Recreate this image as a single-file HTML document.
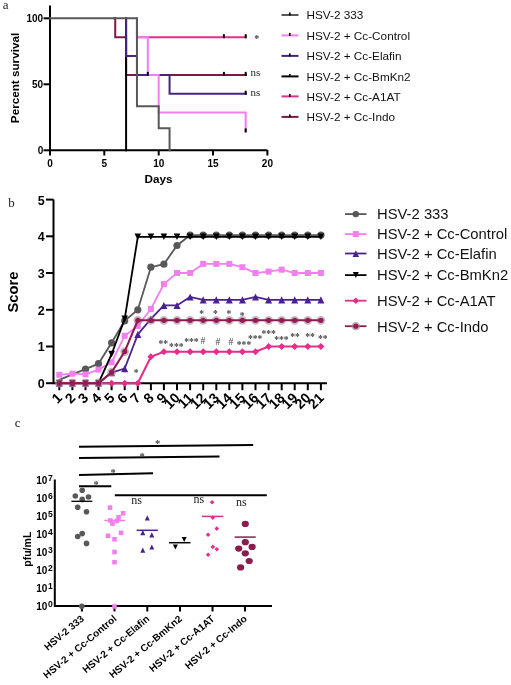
<!DOCTYPE html>
<html><head><meta charset="utf-8"><style>
html,body{margin:0;padding:0;background:#fff;width:511px;height:685px;overflow:hidden}
svg{display:block;filter:blur(0.3px)}
</style></head><body>
<svg width="511" height="685" viewBox="0 0 511 685">
<rect width="511" height="685" fill="#fff"/>
<text x="2.8" y="8.9" style="font-family:'Liberation Serif', serif;font-size:13px" fill="#222">a</text>
<path d="M50,5.5 V150.3 H267.4" fill="none" stroke="#000" stroke-width="2"/>
<line x1="43.5" y1="18.3" x2="50" y2="18.3" stroke="#000" stroke-width="2"/>
<text x="43.2" y="22.3" text-anchor="end" style="font-family:'Liberation Sans', sans-serif;font-size:10px;font-weight:bold">100</text>
<line x1="43.5" y1="84.3" x2="50" y2="84.3" stroke="#000" stroke-width="2"/>
<text x="43.2" y="88.3" text-anchor="end" style="font-family:'Liberation Sans', sans-serif;font-size:10px;font-weight:bold">50</text>
<line x1="43.5" y1="150.3" x2="50" y2="150.3" stroke="#000" stroke-width="2"/>
<text x="43.2" y="154.3" text-anchor="end" style="font-family:'Liberation Sans', sans-serif;font-size:10px;font-weight:bold">0</text>
<line x1="50.0" y1="150" x2="50.0" y2="155.5" stroke="#000" stroke-width="2"/>
<text x="50.0" y="166.5" text-anchor="middle" style="font-family:'Liberation Sans', sans-serif;font-size:10px;font-weight:bold">0</text>
<line x1="104.3" y1="150" x2="104.3" y2="155.5" stroke="#000" stroke-width="2"/>
<text x="104.3" y="166.5" text-anchor="middle" style="font-family:'Liberation Sans', sans-serif;font-size:10px;font-weight:bold">5</text>
<line x1="158.7" y1="150" x2="158.7" y2="155.5" stroke="#000" stroke-width="2"/>
<text x="158.7" y="166.5" text-anchor="middle" style="font-family:'Liberation Sans', sans-serif;font-size:10px;font-weight:bold">10</text>
<line x1="213.0" y1="150" x2="213.0" y2="155.5" stroke="#000" stroke-width="2"/>
<text x="213.0" y="166.5" text-anchor="middle" style="font-family:'Liberation Sans', sans-serif;font-size:10px;font-weight:bold">15</text>
<line x1="267.4" y1="150" x2="267.4" y2="155.5" stroke="#000" stroke-width="2"/>
<text x="267.4" y="166.5" text-anchor="middle" style="font-family:'Liberation Sans', sans-serif;font-size:10px;font-weight:bold">20</text>
<text x="158.5" y="183" text-anchor="middle" style="font-family:'Liberation Sans', sans-serif;font-size:11.7px;font-weight:bold">Days</text>
<text transform="translate(18.6,78) rotate(-90)" text-anchor="middle" style="font-family:'Liberation Sans', sans-serif;font-size:11.7px;font-weight:bold">Percent survival</text>
<path d="M114.22,18.3 H115.22 V37.176 H126.08999999999999 V74.928 H245.66" fill="none" stroke="#7c1a46" stroke-width="2.0" stroke-linejoin="miter" stroke-linecap="square"/>
<path d="M136.95999999999998,18.3 H136.95999999999998 V37.176 H245.66" fill="none" stroke="#e52d8a" stroke-width="2.0" stroke-linejoin="miter" stroke-linecap="square"/>
<path d="M126.08999999999999,18.3 H126.08999999999999 V150.3" fill="none" stroke="#000" stroke-width="2.0" stroke-linejoin="miter" stroke-linecap="square"/>
<path d="M126.08999999999999,18.3 H126.08999999999999 V56.05199999999999 H136.95999999999998 V74.928 H169.57 V93.672 H245.66" fill="none" stroke="#46257f" stroke-width="2.0" stroke-linejoin="miter" stroke-linecap="square"/>
<path d="M136.95999999999998,18.3 H136.95999999999998 V37.176 H147.82999999999998 V74.928 H158.7 V112.54800000000002 H245.66 V131.424" fill="none" stroke="#f27ff0" stroke-width="2.0" stroke-linejoin="miter" stroke-linecap="square"/>
<path d="M50,18.3 H136.95999999999998 V106.34400000000001 H158.7 V128.256 H169.57 V150.3" fill="none" stroke="#58585b" stroke-width="2.0" stroke-linejoin="miter" stroke-linecap="square"/>
<rect x="222.9" y="34.2" width="2" height="4" fill="#000"/>
<rect x="244.7" y="34.2" width="2" height="4" fill="#000"/>
<rect x="222.9" y="71.9" width="2" height="4" fill="#000"/>
<rect x="244.7" y="71.9" width="2" height="4" fill="#000"/>
<rect x="244.7" y="90.7" width="2" height="4" fill="#000"/>
<rect x="244.7" y="128.4" width="2" height="4" fill="#000"/>
<rect x="146.8" y="71.9" width="2" height="4" fill="#000"/>
<text x="250.6" y="75.7" style="font-family:'Liberation Serif', serif;font-size:11px" fill="#222">ns</text>
<text x="250.6" y="95.7" style="font-family:'Liberation Serif', serif;font-size:11px" fill="#222">ns</text>
<line x1="281.5" y1="15" x2="298.5" y2="15" stroke="#58585b" stroke-width="2"/>
<rect x="289" y="12.5" width="1.6" height="3" fill="#000"/>
<text x="306.5" y="19.1" style="font-family:'Liberation Sans', sans-serif;font-size:11.75px" fill="#111">HSV-2 333</text>
<line x1="281.5" y1="35.4" x2="298.5" y2="35.4" stroke="#f27ff0" stroke-width="2"/>
<rect x="289" y="32.9" width="1.6" height="3" fill="#000"/>
<text x="306.5" y="39.5" style="font-family:'Liberation Sans', sans-serif;font-size:11.75px" fill="#111">HSV-2 + Cc-Control</text>
<line x1="281.5" y1="55.9" x2="298.5" y2="55.9" stroke="#46257f" stroke-width="2"/>
<rect x="289" y="53.4" width="1.6" height="3" fill="#000"/>
<text x="306.5" y="60.0" style="font-family:'Liberation Sans', sans-serif;font-size:11.75px" fill="#111">HSV-2 + Cc-Elafin</text>
<line x1="281.5" y1="76.4" x2="298.5" y2="76.4" stroke="#000" stroke-width="2"/>
<rect x="289" y="73.9" width="1.6" height="3" fill="#000"/>
<text x="306.5" y="80.6" style="font-family:'Liberation Sans', sans-serif;font-size:11.75px" fill="#111">HSV-2 + Cc-BmKn2</text>
<line x1="281.5" y1="96.4" x2="298.5" y2="96.4" stroke="#e52d8a" stroke-width="2"/>
<rect x="289" y="93.9" width="1.6" height="3" fill="#000"/>
<text x="306.5" y="100.6" style="font-family:'Liberation Sans', sans-serif;font-size:11.75px" fill="#111">HSV-2 + Cc-A1AT</text>
<line x1="281.5" y1="116.9" x2="298.5" y2="116.9" stroke="#7c1a46" stroke-width="2"/>
<rect x="289" y="114.4" width="1.6" height="3" fill="#000"/>
<text x="306.5" y="121.1" style="font-family:'Liberation Sans', sans-serif;font-size:11.75px" fill="#111">HSV-2 + Cc-Indo</text>
<text x="8.3" y="206.8" style="font-family:'Liberation Serif', serif;font-size:13px" fill="#222">b</text>
<path d="M53.5,199.6 V383.2 H327" fill="none" stroke="#000" stroke-width="2"/>
<line x1="46" y1="383.2" x2="53.5" y2="383.2" stroke="#000" stroke-width="2"/>
<text x="44.8" y="388.1" text-anchor="end" style="font-family:'Liberation Sans', sans-serif;font-size:12.5px;font-weight:bold">0</text>
<line x1="46" y1="346.5" x2="53.5" y2="346.5" stroke="#000" stroke-width="2"/>
<text x="44.8" y="351.4" text-anchor="end" style="font-family:'Liberation Sans', sans-serif;font-size:12.5px;font-weight:bold">1</text>
<line x1="46" y1="309.8" x2="53.5" y2="309.8" stroke="#000" stroke-width="2"/>
<text x="44.8" y="314.7" text-anchor="end" style="font-family:'Liberation Sans', sans-serif;font-size:12.5px;font-weight:bold">2</text>
<line x1="46" y1="273.0" x2="53.5" y2="273.0" stroke="#000" stroke-width="2"/>
<text x="44.8" y="277.9" text-anchor="end" style="font-family:'Liberation Sans', sans-serif;font-size:12.5px;font-weight:bold">3</text>
<line x1="46" y1="236.3" x2="53.5" y2="236.3" stroke="#000" stroke-width="2"/>
<text x="44.8" y="241.2" text-anchor="end" style="font-family:'Liberation Sans', sans-serif;font-size:12.5px;font-weight:bold">4</text>
<line x1="46" y1="199.6" x2="53.5" y2="199.6" stroke="#000" stroke-width="2"/>
<text x="44.8" y="204.5" text-anchor="end" style="font-family:'Liberation Sans', sans-serif;font-size:12.5px;font-weight:bold">5</text>
<line x1="59.3" y1="383" x2="59.3" y2="390.2" stroke="#000" stroke-width="2"/>
<text transform="translate(63.1,398.8) rotate(-45)" text-anchor="end" style="font-family:'Liberation Sans', sans-serif;font-size:14px;font-weight:bold">1</text>
<line x1="72.4" y1="383" x2="72.4" y2="390.2" stroke="#000" stroke-width="2"/>
<text transform="translate(76.2,398.8) rotate(-45)" text-anchor="end" style="font-family:'Liberation Sans', sans-serif;font-size:14px;font-weight:bold">2</text>
<line x1="85.5" y1="383" x2="85.5" y2="390.2" stroke="#000" stroke-width="2"/>
<text transform="translate(89.3,398.8) rotate(-45)" text-anchor="end" style="font-family:'Liberation Sans', sans-serif;font-size:14px;font-weight:bold">3</text>
<line x1="98.5" y1="383" x2="98.5" y2="390.2" stroke="#000" stroke-width="2"/>
<text transform="translate(102.3,398.8) rotate(-45)" text-anchor="end" style="font-family:'Liberation Sans', sans-serif;font-size:14px;font-weight:bold">4</text>
<line x1="111.6" y1="383" x2="111.6" y2="390.2" stroke="#000" stroke-width="2"/>
<text transform="translate(115.4,398.8) rotate(-45)" text-anchor="end" style="font-family:'Liberation Sans', sans-serif;font-size:14px;font-weight:bold">5</text>
<line x1="124.7" y1="383" x2="124.7" y2="390.2" stroke="#000" stroke-width="2"/>
<text transform="translate(128.5,398.8) rotate(-45)" text-anchor="end" style="font-family:'Liberation Sans', sans-serif;font-size:14px;font-weight:bold">6</text>
<line x1="137.8" y1="383" x2="137.8" y2="390.2" stroke="#000" stroke-width="2"/>
<text transform="translate(141.6,398.8) rotate(-45)" text-anchor="end" style="font-family:'Liberation Sans', sans-serif;font-size:14px;font-weight:bold">7</text>
<line x1="150.9" y1="383" x2="150.9" y2="390.2" stroke="#000" stroke-width="2"/>
<text transform="translate(154.7,398.8) rotate(-45)" text-anchor="end" style="font-family:'Liberation Sans', sans-serif;font-size:14px;font-weight:bold">8</text>
<line x1="163.9" y1="383" x2="163.9" y2="390.2" stroke="#000" stroke-width="2"/>
<text transform="translate(167.7,398.8) rotate(-45)" text-anchor="end" style="font-family:'Liberation Sans', sans-serif;font-size:14px;font-weight:bold">9</text>
<line x1="177.0" y1="383" x2="177.0" y2="390.2" stroke="#000" stroke-width="2"/>
<text transform="translate(180.8,398.8) rotate(-45)" text-anchor="end" style="font-family:'Liberation Sans', sans-serif;font-size:14px;font-weight:bold">10</text>
<line x1="190.1" y1="383" x2="190.1" y2="390.2" stroke="#000" stroke-width="2"/>
<text transform="translate(193.9,398.8) rotate(-45)" text-anchor="end" style="font-family:'Liberation Sans', sans-serif;font-size:14px;font-weight:bold">11</text>
<line x1="203.2" y1="383" x2="203.2" y2="390.2" stroke="#000" stroke-width="2"/>
<text transform="translate(207.0,398.8) rotate(-45)" text-anchor="end" style="font-family:'Liberation Sans', sans-serif;font-size:14px;font-weight:bold">12</text>
<line x1="216.3" y1="383" x2="216.3" y2="390.2" stroke="#000" stroke-width="2"/>
<text transform="translate(220.1,398.8) rotate(-45)" text-anchor="end" style="font-family:'Liberation Sans', sans-serif;font-size:14px;font-weight:bold">13</text>
<line x1="229.3" y1="383" x2="229.3" y2="390.2" stroke="#000" stroke-width="2"/>
<text transform="translate(233.1,398.8) rotate(-45)" text-anchor="end" style="font-family:'Liberation Sans', sans-serif;font-size:14px;font-weight:bold">14</text>
<line x1="242.4" y1="383" x2="242.4" y2="390.2" stroke="#000" stroke-width="2"/>
<text transform="translate(246.2,398.8) rotate(-45)" text-anchor="end" style="font-family:'Liberation Sans', sans-serif;font-size:14px;font-weight:bold">15</text>
<line x1="255.5" y1="383" x2="255.5" y2="390.2" stroke="#000" stroke-width="2"/>
<text transform="translate(259.3,398.8) rotate(-45)" text-anchor="end" style="font-family:'Liberation Sans', sans-serif;font-size:14px;font-weight:bold">16</text>
<line x1="268.6" y1="383" x2="268.6" y2="390.2" stroke="#000" stroke-width="2"/>
<text transform="translate(272.4,398.8) rotate(-45)" text-anchor="end" style="font-family:'Liberation Sans', sans-serif;font-size:14px;font-weight:bold">17</text>
<line x1="281.7" y1="383" x2="281.7" y2="390.2" stroke="#000" stroke-width="2"/>
<text transform="translate(285.5,398.8) rotate(-45)" text-anchor="end" style="font-family:'Liberation Sans', sans-serif;font-size:14px;font-weight:bold">18</text>
<line x1="294.7" y1="383" x2="294.7" y2="390.2" stroke="#000" stroke-width="2"/>
<text transform="translate(298.5,398.8) rotate(-45)" text-anchor="end" style="font-family:'Liberation Sans', sans-serif;font-size:14px;font-weight:bold">19</text>
<line x1="307.8" y1="383" x2="307.8" y2="390.2" stroke="#000" stroke-width="2"/>
<text transform="translate(311.6,398.8) rotate(-45)" text-anchor="end" style="font-family:'Liberation Sans', sans-serif;font-size:14px;font-weight:bold">20</text>
<line x1="320.9" y1="383" x2="320.9" y2="390.2" stroke="#000" stroke-width="2"/>
<text transform="translate(324.7,398.8) rotate(-45)" text-anchor="end" style="font-family:'Liberation Sans', sans-serif;font-size:14px;font-weight:bold">21</text>
<text transform="translate(17.8,292) rotate(-90)" text-anchor="middle" style="font-family:'Liberation Sans', sans-serif;font-size:14.8px;font-weight:bold">Score</text>
<polyline points="59.3,379.9 72.4,374.4 85.5,369.2 98.5,363.7 111.6,342.8 124.7,320.8 137.8,309.8 150.9,267.2 163.9,264.2 177.0,245.5 190.1,235.2 203.2,235.2 216.3,235.2 229.3,235.2 242.4,235.2 255.5,235.2 268.6,235.2 281.7,235.2 294.7,235.2 307.8,235.2 320.9,235.2" fill="none" stroke="#58585b" stroke-width="1.8"/>
<circle cx="85.5" cy="369.2" r="3.6" fill="#58585b"/>
<circle cx="98.5" cy="363.7" r="3.6" fill="#58585b"/>
<circle cx="111.6" cy="342.8" r="3.6" fill="#58585b"/>
<circle cx="124.7" cy="320.8" r="3.6" fill="#58585b"/>
<circle cx="137.8" cy="309.8" r="3.6" fill="#58585b"/>
<circle cx="150.9" cy="267.2" r="3.6" fill="#58585b"/>
<circle cx="163.9" cy="264.2" r="3.6" fill="#58585b"/>
<circle cx="177.0" cy="245.5" r="3.6" fill="#58585b"/>
<circle cx="190.1" cy="235.2" r="3.6" fill="#58585b"/>
<circle cx="203.2" cy="235.2" r="3.6" fill="#58585b"/>
<circle cx="216.3" cy="235.2" r="3.6" fill="#58585b"/>
<circle cx="229.3" cy="235.2" r="3.6" fill="#58585b"/>
<circle cx="242.4" cy="235.2" r="3.6" fill="#58585b"/>
<circle cx="255.5" cy="235.2" r="3.6" fill="#58585b"/>
<circle cx="268.6" cy="235.2" r="3.6" fill="#58585b"/>
<circle cx="281.7" cy="235.2" r="3.6" fill="#58585b"/>
<circle cx="294.7" cy="235.2" r="3.6" fill="#58585b"/>
<circle cx="307.8" cy="235.2" r="3.6" fill="#58585b"/>
<circle cx="320.9" cy="235.2" r="3.6" fill="#58585b"/>
<polyline points="59.3,374.8 72.4,373.7 85.5,374.4 98.5,369.6 111.6,362.3 124.7,335.8 137.8,325.9 150.9,309.0 163.9,284.1 177.0,273.0 190.1,273.0 203.2,263.9 216.3,263.9 229.3,263.9 242.4,267.2 255.5,273.0 268.6,271.6 281.7,269.7 294.7,273.0 307.8,273.0 320.9,273.0" fill="none" stroke="#f27ff0" stroke-width="1.8"/>
<rect x="56.3" y="371.8" width="6" height="6" fill="#f27ff0"/>
<rect x="69.4" y="370.7" width="6" height="6" fill="#f27ff0"/>
<rect x="82.5" y="371.4" width="6" height="6" fill="#f27ff0"/>
<rect x="95.5" y="366.6" width="6" height="6" fill="#f27ff0"/>
<rect x="108.6" y="359.3" width="6" height="6" fill="#f27ff0"/>
<rect x="121.7" y="332.8" width="6" height="6" fill="#f27ff0"/>
<rect x="134.8" y="322.9" width="6" height="6" fill="#f27ff0"/>
<rect x="147.9" y="306.0" width="6" height="6" fill="#f27ff0"/>
<rect x="160.9" y="281.1" width="6" height="6" fill="#f27ff0"/>
<rect x="174.0" y="270.0" width="6" height="6" fill="#f27ff0"/>
<rect x="187.1" y="270.0" width="6" height="6" fill="#f27ff0"/>
<rect x="200.2" y="260.9" width="6" height="6" fill="#f27ff0"/>
<rect x="213.3" y="260.9" width="6" height="6" fill="#f27ff0"/>
<rect x="226.3" y="260.9" width="6" height="6" fill="#f27ff0"/>
<rect x="239.4" y="264.2" width="6" height="6" fill="#f27ff0"/>
<rect x="252.5" y="270.0" width="6" height="6" fill="#f27ff0"/>
<rect x="265.6" y="268.6" width="6" height="6" fill="#f27ff0"/>
<rect x="278.7" y="266.7" width="6" height="6" fill="#f27ff0"/>
<rect x="291.7" y="270.0" width="6" height="6" fill="#f27ff0"/>
<rect x="304.8" y="270.0" width="6" height="6" fill="#f27ff0"/>
<rect x="317.9" y="270.0" width="6" height="6" fill="#f27ff0"/>
<polyline points="59.3,383.2 72.4,383.2 85.5,383.2 98.5,383.2 111.6,372.6 124.7,368.5 137.8,334.4 150.9,318.9 163.9,305.4 177.0,305.4 190.1,296.9 203.2,299.8 216.3,299.8 229.3,299.8 242.4,299.8 255.5,296.9 268.6,299.8 281.7,299.8 294.7,299.8 307.8,299.8 320.9,299.8" fill="none" stroke="#4a2192" stroke-width="1.8"/>
<path d="M59.3,379.7 L62.8,386.8 L55.8,386.8Z" fill="#4a2192"/>
<path d="M72.4,379.7 L75.9,386.8 L68.9,386.8Z" fill="#4a2192"/>
<path d="M85.5,379.7 L89.0,386.8 L82.0,386.8Z" fill="#4a2192"/>
<path d="M98.5,379.7 L102.0,386.8 L95.0,386.8Z" fill="#4a2192"/>
<path d="M111.6,369.1 L115.1,376.2 L108.1,376.2Z" fill="#4a2192"/>
<path d="M124.7,365.0 L128.2,372.2 L121.2,372.2Z" fill="#4a2192"/>
<path d="M137.8,330.9 L141.3,338.0 L134.3,338.0Z" fill="#4a2192"/>
<path d="M150.9,315.4 L154.4,322.6 L147.4,322.6Z" fill="#4a2192"/>
<path d="M163.9,301.9 L167.4,309.0 L160.4,309.0Z" fill="#4a2192"/>
<path d="M177.0,301.9 L180.5,309.0 L173.5,309.0Z" fill="#4a2192"/>
<path d="M190.1,293.4 L193.6,300.5 L186.6,300.5Z" fill="#4a2192"/>
<path d="M203.2,296.3 L206.7,303.5 L199.7,303.5Z" fill="#4a2192"/>
<path d="M216.3,296.3 L219.8,303.5 L212.8,303.5Z" fill="#4a2192"/>
<path d="M229.3,296.3 L232.8,303.5 L225.8,303.5Z" fill="#4a2192"/>
<path d="M242.4,296.3 L245.9,303.5 L238.9,303.5Z" fill="#4a2192"/>
<path d="M255.5,293.4 L259.0,300.5 L252.0,300.5Z" fill="#4a2192"/>
<path d="M268.6,296.3 L272.1,303.5 L265.1,303.5Z" fill="#4a2192"/>
<path d="M281.7,296.3 L285.2,303.5 L278.2,303.5Z" fill="#4a2192"/>
<path d="M294.7,296.3 L298.2,303.5 L291.2,303.5Z" fill="#4a2192"/>
<path d="M307.8,296.3 L311.3,303.5 L304.3,303.5Z" fill="#4a2192"/>
<path d="M320.9,296.3 L324.4,303.5 L317.4,303.5Z" fill="#4a2192"/>
<polyline points="59.3,383.2 72.4,383.2 85.5,383.2 98.5,383.2 111.6,354.2 124.7,318.9 137.8,236.9 150.9,236.9 163.9,236.9 177.0,236.9 190.1,236.9 203.2,236.9 216.3,236.9 229.3,236.9 242.4,236.9 255.5,236.9 268.6,236.9 281.7,236.9 294.7,236.9 307.8,236.9 320.9,236.9" fill="none" stroke="#000" stroke-width="1.8"/>
<path d="M59.3,386.4 L62.6,379.8 L56.0,379.8Z" fill="#000"/>
<path d="M72.4,386.4 L75.7,379.8 L69.1,379.8Z" fill="#000"/>
<path d="M85.5,386.4 L88.8,379.8 L82.2,379.8Z" fill="#000"/>
<path d="M98.5,386.4 L101.8,379.8 L95.2,379.8Z" fill="#000"/>
<path d="M111.6,357.4 L114.9,350.8 L108.3,350.8Z" fill="#000"/>
<path d="M124.7,322.1 L128.0,315.5 L121.4,315.5Z" fill="#000"/>
<path d="M137.8,240.0 L141.1,233.4 L134.5,233.4Z" fill="#000"/>
<path d="M150.9,240.0 L154.2,233.4 L147.6,233.4Z" fill="#000"/>
<path d="M163.9,240.0 L167.2,233.4 L160.6,233.4Z" fill="#000"/>
<path d="M177.0,240.0 L180.3,233.4 L173.7,233.4Z" fill="#000"/>
<path d="M190.1,240.0 L193.4,233.4 L186.8,233.4Z" fill="#000"/>
<path d="M203.2,240.0 L206.5,233.4 L199.9,233.4Z" fill="#000"/>
<path d="M216.3,240.0 L219.6,233.4 L213.0,233.4Z" fill="#000"/>
<path d="M229.3,240.0 L232.6,233.4 L226.0,233.4Z" fill="#000"/>
<path d="M242.4,240.0 L245.7,233.4 L239.1,233.4Z" fill="#000"/>
<path d="M255.5,240.0 L258.8,233.4 L252.2,233.4Z" fill="#000"/>
<path d="M268.6,240.0 L271.9,233.4 L265.3,233.4Z" fill="#000"/>
<path d="M281.7,240.0 L285.0,233.4 L278.4,233.4Z" fill="#000"/>
<path d="M294.7,240.0 L298.0,233.4 L291.4,233.4Z" fill="#000"/>
<path d="M307.8,240.0 L311.1,233.4 L304.5,233.4Z" fill="#000"/>
<path d="M320.9,240.0 L324.2,233.4 L317.6,233.4Z" fill="#000"/>
<polyline points="59.3,383.2 72.4,383.2 85.5,383.2 98.5,383.2 111.6,383.2 124.7,383.2 137.8,383.2 150.9,356.8 163.9,351.7 177.0,351.7 190.1,351.7 203.2,351.7 216.3,351.7 229.3,351.7 242.4,351.7 255.5,351.7 268.6,346.5 281.7,346.5 294.7,346.5 307.8,346.5 320.9,346.5" fill="none" stroke="#e52d8a" stroke-width="2.1"/>
<path d="M59.3,379.7 L62.8,383.2 L59.3,386.7 L55.8,383.2Z" fill="#e52d8a"/>
<path d="M72.4,379.7 L75.9,383.2 L72.4,386.7 L68.9,383.2Z" fill="#e52d8a"/>
<path d="M85.5,379.7 L89.0,383.2 L85.5,386.7 L82.0,383.2Z" fill="#e52d8a"/>
<path d="M98.5,379.7 L102.0,383.2 L98.5,386.7 L95.0,383.2Z" fill="#e52d8a"/>
<path d="M111.6,379.7 L115.1,383.2 L111.6,386.7 L108.1,383.2Z" fill="#e52d8a"/>
<path d="M124.7,379.7 L128.2,383.2 L124.7,386.7 L121.2,383.2Z" fill="#e52d8a"/>
<path d="M137.8,379.7 L141.3,383.2 L137.8,386.7 L134.3,383.2Z" fill="#e52d8a"/>
<path d="M150.9,353.3 L154.4,356.8 L150.9,360.3 L147.4,356.8Z" fill="#e52d8a"/>
<path d="M163.9,348.2 L167.4,351.7 L163.9,355.2 L160.4,351.7Z" fill="#e52d8a"/>
<path d="M177.0,348.2 L180.5,351.7 L177.0,355.2 L173.5,351.7Z" fill="#e52d8a"/>
<path d="M190.1,348.2 L193.6,351.7 L190.1,355.2 L186.6,351.7Z" fill="#e52d8a"/>
<path d="M203.2,348.2 L206.7,351.7 L203.2,355.2 L199.7,351.7Z" fill="#e52d8a"/>
<path d="M216.3,348.2 L219.8,351.7 L216.3,355.2 L212.8,351.7Z" fill="#e52d8a"/>
<path d="M229.3,348.2 L232.8,351.7 L229.3,355.2 L225.8,351.7Z" fill="#e52d8a"/>
<path d="M242.4,348.2 L245.9,351.7 L242.4,355.2 L238.9,351.7Z" fill="#e52d8a"/>
<path d="M255.5,348.2 L259.0,351.7 L255.5,355.2 L252.0,351.7Z" fill="#e52d8a"/>
<path d="M268.6,343.0 L272.1,346.5 L268.6,350.0 L265.1,346.5Z" fill="#e52d8a"/>
<path d="M281.7,343.0 L285.2,346.5 L281.7,350.0 L278.2,346.5Z" fill="#e52d8a"/>
<path d="M294.7,343.0 L298.2,346.5 L294.7,350.0 L291.2,346.5Z" fill="#e52d8a"/>
<path d="M307.8,343.0 L311.3,346.5 L307.8,350.0 L304.3,346.5Z" fill="#e52d8a"/>
<path d="M320.9,343.0 L324.4,346.5 L320.9,350.0 L317.4,346.5Z" fill="#e52d8a"/>
<circle cx="59.3" cy="383.2" r="4.4" fill="#a08c98" opacity="0.6"/>
<circle cx="72.4" cy="383.2" r="4.4" fill="#a08c98" opacity="0.6"/>
<circle cx="85.5" cy="383.2" r="4.4" fill="#a08c98" opacity="0.6"/>
<circle cx="98.5" cy="383.2" r="4.4" fill="#a08c98" opacity="0.6"/>
<circle cx="111.6" cy="372.2" r="4.4" fill="#a08c98" opacity="0.6"/>
<circle cx="124.7" cy="351.6" r="4.4" fill="#a08c98" opacity="0.6"/>
<circle cx="137.8" cy="320.3" r="4.4" fill="#a08c98" opacity="0.6"/>
<circle cx="150.9" cy="320.3" r="4.4" fill="#a08c98" opacity="0.6"/>
<circle cx="163.9" cy="320.3" r="4.4" fill="#a08c98" opacity="0.6"/>
<circle cx="177.0" cy="320.3" r="4.4" fill="#a08c98" opacity="0.6"/>
<circle cx="190.1" cy="320.3" r="4.4" fill="#a08c98" opacity="0.6"/>
<circle cx="203.2" cy="320.3" r="4.4" fill="#a08c98" opacity="0.6"/>
<circle cx="216.3" cy="320.3" r="4.4" fill="#a08c98" opacity="0.6"/>
<circle cx="229.3" cy="320.3" r="4.4" fill="#a08c98" opacity="0.6"/>
<circle cx="242.4" cy="320.3" r="4.4" fill="#a08c98" opacity="0.6"/>
<circle cx="255.5" cy="320.3" r="4.4" fill="#a08c98" opacity="0.6"/>
<circle cx="268.6" cy="320.3" r="4.4" fill="#a08c98" opacity="0.6"/>
<circle cx="281.7" cy="320.3" r="4.4" fill="#a08c98" opacity="0.6"/>
<circle cx="294.7" cy="320.3" r="4.4" fill="#a08c98" opacity="0.6"/>
<circle cx="307.8" cy="320.3" r="4.4" fill="#a08c98" opacity="0.6"/>
<circle cx="320.9" cy="320.3" r="4.4" fill="#a08c98" opacity="0.6"/>
<polyline points="59.3,383.2 72.4,383.2 85.5,383.2 98.5,383.2 111.6,372.2 124.7,351.6 137.8,320.3 150.9,320.3 163.9,320.3 177.0,320.3 190.1,320.3 203.2,320.3 216.3,320.3 229.3,320.3 242.4,320.3 255.5,320.3 268.6,320.3 281.7,320.3 294.7,320.3 307.8,320.3 320.9,320.3" fill="none" stroke="#8e1a4e" stroke-width="2.1"/>
<circle cx="59.3" cy="383.2" r="2.6" fill="#981a55"/>
<circle cx="72.4" cy="383.2" r="2.6" fill="#981a55"/>
<circle cx="85.5" cy="383.2" r="2.6" fill="#981a55"/>
<circle cx="98.5" cy="383.2" r="2.6" fill="#981a55"/>
<circle cx="111.6" cy="372.2" r="2.6" fill="#981a55"/>
<circle cx="124.7" cy="351.6" r="2.6" fill="#981a55"/>
<circle cx="137.8" cy="320.3" r="2.6" fill="#981a55"/>
<circle cx="150.9" cy="320.3" r="2.6" fill="#981a55"/>
<circle cx="163.9" cy="320.3" r="2.6" fill="#981a55"/>
<circle cx="177.0" cy="320.3" r="2.6" fill="#981a55"/>
<circle cx="190.1" cy="320.3" r="2.6" fill="#981a55"/>
<circle cx="203.2" cy="320.3" r="2.6" fill="#981a55"/>
<circle cx="216.3" cy="320.3" r="2.6" fill="#981a55"/>
<circle cx="229.3" cy="320.3" r="2.6" fill="#981a55"/>
<circle cx="242.4" cy="320.3" r="2.6" fill="#981a55"/>
<circle cx="255.5" cy="320.3" r="2.6" fill="#981a55"/>
<circle cx="268.6" cy="320.3" r="2.6" fill="#981a55"/>
<circle cx="281.7" cy="320.3" r="2.6" fill="#981a55"/>
<circle cx="294.7" cy="320.3" r="2.6" fill="#981a55"/>
<circle cx="307.8" cy="320.3" r="2.6" fill="#981a55"/>
<circle cx="320.9" cy="320.3" r="2.6" fill="#981a55"/>
<text x="158.4" y="347.2" style="font-family:'Liberation Serif', serif;font-size:9.6px;font-weight:bold" fill="#444">**</text>
<text x="169.1" y="349.7" style="font-family:'Liberation Serif', serif;font-size:9.6px;font-weight:bold" fill="#444">***</text>
<text x="184.2" y="345.1" style="font-family:'Liberation Serif', serif;font-size:9.6px;font-weight:bold" fill="#444">***</text>
<text x="200.4" y="344.2" style="font-family:'Liberation Serif', serif;font-size:9.6px" fill="#444">#</text>
<text x="215.6" y="344.8" style="font-family:'Liberation Serif', serif;font-size:9.6px" fill="#444">#</text>
<text x="228.5" y="344.8" style="font-family:'Liberation Serif', serif;font-size:9.6px" fill="#444">#</text>
<text x="236.8" y="348.0" style="font-family:'Liberation Serif', serif;font-size:9.6px;font-weight:bold" fill="#444">***</text>
<text x="247.9" y="342.1" style="font-family:'Liberation Serif', serif;font-size:9.6px;font-weight:bold" fill="#444">***</text>
<text x="261.4" y="337.4" style="font-family:'Liberation Serif', serif;font-size:9.6px;font-weight:bold" fill="#444">***</text>
<text x="274.2" y="343.3" style="font-family:'Liberation Serif', serif;font-size:9.6px;font-weight:bold" fill="#444">***</text>
<text x="290.2" y="340.2" style="font-family:'Liberation Serif', serif;font-size:9.6px;font-weight:bold" fill="#444">**</text>
<text x="305.3" y="340.2" style="font-family:'Liberation Serif', serif;font-size:9.6px;font-weight:bold" fill="#444">**</text>
<text x="318.0" y="341.5" style="font-family:'Liberation Serif', serif;font-size:9.6px;font-weight:bold" fill="#444">**</text>
<text x="199.3" y="317.3" style="font-family:'Liberation Serif', serif;font-size:9.6px;font-weight:bold" fill="#444">*</text>
<text x="213.1" y="317.3" style="font-family:'Liberation Serif', serif;font-size:9.6px;font-weight:bold" fill="#444">*</text>
<text x="226.6" y="317.3" style="font-family:'Liberation Serif', serif;font-size:9.6px;font-weight:bold" fill="#444">*</text>
<text x="239.8" y="318.8" style="font-family:'Liberation Serif', serif;font-size:9.6px;font-weight:bold" fill="#444">*</text>
<text x="133.8" y="376.4" style="font-family:'Liberation Serif', serif;font-size:9.6px;font-weight:bold" fill="#444">*</text>
<text x="254.2" y="41.9" style="font-family:'Liberation Serif', serif;font-size:10px;font-weight:bold" fill="#444">*</text>
<line x1="345" y1="214.1" x2="366.5" y2="214.1" stroke="#58585b" stroke-width="1.8"/>
<circle cx="355.8" cy="214.1" r="3.2" fill="#58585b"/>
<text x="377" y="219.4" style="font-family:'Liberation Sans', sans-serif;font-size:14.8px" fill="#111">HSV-2 333</text>
<line x1="345" y1="234.1" x2="366.5" y2="234.1" stroke="#f27ff0" stroke-width="1.8"/>
<rect x="352.8" y="231.1" width="6" height="6" fill="#f27ff0"/>
<text x="377" y="239.4" style="font-family:'Liberation Sans', sans-serif;font-size:14.8px" fill="#111">HSV-2 + Cc-Control</text>
<line x1="345" y1="253.5" x2="366.5" y2="253.5" stroke="#4a2192" stroke-width="1.8"/>
<path d="M355.8,250.2 L359.1,256.9 L352.6,256.9Z" fill="#4a2192"/>
<text x="377" y="258.8" style="font-family:'Liberation Sans', sans-serif;font-size:14.8px" fill="#111">HSV-2 + Cc-Elafin</text>
<line x1="345" y1="275.1" x2="366.5" y2="275.1" stroke="#000" stroke-width="1.8"/>
<path d="M355.8,278.0 L358.8,272.0 L352.8,272.0Z" fill="#000"/>
<text x="377" y="280.4" style="font-family:'Liberation Sans', sans-serif;font-size:14.8px" fill="#111">HSV-2 + Cc-BmKn2</text>
<line x1="345" y1="300.7" x2="366.5" y2="300.7" stroke="#e52d8a" stroke-width="1.8"/>
<path d="M355.8,297.4 L359.1,300.7 L355.8,303.9 L352.6,300.7Z" fill="#e52d8a"/>
<text x="377" y="306.0" style="font-family:'Liberation Sans', sans-serif;font-size:14.8px" fill="#111">HSV-2 + Cc-A1AT</text>
<line x1="345" y1="326.2" x2="366.5" y2="326.2" stroke="#8e1a4e" stroke-width="1.8"/>
<circle cx="355.8" cy="326.2" r="4.4" fill="#a08c98" opacity="0.6"/><circle cx="355.8" cy="326.2" r="2.6" fill="#981a55"/>
<text x="377" y="331.5" style="font-family:'Liberation Sans', sans-serif;font-size:14.8px" fill="#111">HSV-2 + Cc-Indo</text>
<text x="14.8" y="427" style="font-family:'Liberation Serif', serif;font-size:13px" fill="#222">c</text>
<path d="M54.8,479.4 V606 H272" fill="none" stroke="#000" stroke-width="2"/>
<text x="47.4" y="609.9" text-anchor="end" style="font-family:'Liberation Sans', sans-serif;font-size:10px;font-weight:bold">10</text>
<text x="48.1" y="607.1" style="font-family:'Liberation Sans', sans-serif;font-size:8.6px;font-weight:bold">0</text>
<text x="47.4" y="591.9" text-anchor="end" style="font-family:'Liberation Sans', sans-serif;font-size:10px;font-weight:bold">10</text>
<text x="48.1" y="589.1" style="font-family:'Liberation Sans', sans-serif;font-size:8.6px;font-weight:bold">1</text>
<text x="47.4" y="573.9" text-anchor="end" style="font-family:'Liberation Sans', sans-serif;font-size:10px;font-weight:bold">10</text>
<text x="48.1" y="571.1" style="font-family:'Liberation Sans', sans-serif;font-size:8.6px;font-weight:bold">2</text>
<text x="47.4" y="555.9" text-anchor="end" style="font-family:'Liberation Sans', sans-serif;font-size:10px;font-weight:bold">10</text>
<text x="48.1" y="553.1" style="font-family:'Liberation Sans', sans-serif;font-size:8.6px;font-weight:bold">3</text>
<text x="47.4" y="537.9" text-anchor="end" style="font-family:'Liberation Sans', sans-serif;font-size:10px;font-weight:bold">10</text>
<text x="48.1" y="535.1" style="font-family:'Liberation Sans', sans-serif;font-size:8.6px;font-weight:bold">4</text>
<text x="47.4" y="519.9" text-anchor="end" style="font-family:'Liberation Sans', sans-serif;font-size:10px;font-weight:bold">10</text>
<text x="48.1" y="517.1" style="font-family:'Liberation Sans', sans-serif;font-size:8.6px;font-weight:bold">5</text>
<text x="47.4" y="501.9" text-anchor="end" style="font-family:'Liberation Sans', sans-serif;font-size:10px;font-weight:bold">10</text>
<text x="48.1" y="499.1" style="font-family:'Liberation Sans', sans-serif;font-size:8.6px;font-weight:bold">6</text>
<text x="47.4" y="483.9" text-anchor="end" style="font-family:'Liberation Sans', sans-serif;font-size:10px;font-weight:bold">10</text>
<text x="48.1" y="481.1" style="font-family:'Liberation Sans', sans-serif;font-size:8.6px;font-weight:bold">7</text>
<text transform="translate(31.2,549.2) rotate(-90)" text-anchor="middle" style="font-family:'Liberation Sans', sans-serif;font-size:10.5px;font-weight:bold">pfu/mL</text>
<line x1="81.9" y1="606" x2="81.9" y2="611.5" stroke="#000" stroke-width="2"/>
<text transform="translate(84.7,619.8) rotate(-40)" text-anchor="end" style="font-family:'Liberation Sans', sans-serif;font-size:10px;font-weight:bold">HSV-2 333</text>
<line x1="114.5" y1="606" x2="114.5" y2="611.5" stroke="#000" stroke-width="2"/>
<text transform="translate(117.3,619.8) rotate(-40)" text-anchor="end" style="font-family:'Liberation Sans', sans-serif;font-size:10px;font-weight:bold">HSV-2 + Cc-Control</text>
<line x1="147.3" y1="606" x2="147.3" y2="611.5" stroke="#000" stroke-width="2"/>
<text transform="translate(150.1,619.8) rotate(-40)" text-anchor="end" style="font-family:'Liberation Sans', sans-serif;font-size:10px;font-weight:bold">HSV-2 + Cc-Elafin</text>
<line x1="180" y1="606" x2="180" y2="611.5" stroke="#000" stroke-width="2"/>
<text transform="translate(182.8,619.8) rotate(-40)" text-anchor="end" style="font-family:'Liberation Sans', sans-serif;font-size:10px;font-weight:bold">HSV-2 + Cc-BmKn2</text>
<line x1="212.5" y1="606" x2="212.5" y2="611.5" stroke="#000" stroke-width="2"/>
<text transform="translate(215.3,619.8) rotate(-40)" text-anchor="end" style="font-family:'Liberation Sans', sans-serif;font-size:10px;font-weight:bold">HSV-2 + Cc-A1AT</text>
<line x1="245" y1="606" x2="245" y2="611.5" stroke="#000" stroke-width="2"/>
<text transform="translate(247.8,619.8) rotate(-40)" text-anchor="end" style="font-family:'Liberation Sans', sans-serif;font-size:10px;font-weight:bold">HSV-2 + Cc-Indo</text>
<line x1="79" y1="446.8" x2="253.2" y2="445.1" stroke="#000" stroke-width="2"/>
<line x1="79" y1="458" x2="219.5" y2="456.6" stroke="#000" stroke-width="2"/>
<line x1="79" y1="475" x2="153" y2="473.2" stroke="#000" stroke-width="2"/>
<line x1="79" y1="486.2" x2="111.3" y2="486.2" stroke="#000" stroke-width="2"/>
<line x1="114.8" y1="495.3" x2="266.8" y2="495.2" stroke="#000" stroke-width="2"/>
<text x="155.1" y="446.6" style="font-family:'Liberation Serif', serif;font-size:10.5px;font-weight:bold" fill="#444">*</text>
<text x="139.4" y="459.7" style="font-family:'Liberation Serif', serif;font-size:10.5px;font-weight:bold" fill="#444">*</text>
<text x="110.6" y="475.5" style="font-family:'Liberation Serif', serif;font-size:10.5px;font-weight:bold" fill="#444">*</text>
<text x="93.4" y="487.7" style="font-family:'Liberation Serif', serif;font-size:10.5px;font-weight:bold" fill="#444">*</text>
<text x="131.3" y="504.3" style="font-family:'Liberation Serif', serif;font-size:12px" fill="#222">ns</text>
<text x="193.6" y="503.3" style="font-family:'Liberation Serif', serif;font-size:12px" fill="#222">ns</text>
<text x="236" y="506.3" style="font-family:'Liberation Serif', serif;font-size:12px" fill="#222">ns</text>
<circle cx="82.2" cy="490.2" r="2.8" fill="#58585b"/>
<circle cx="75.3" cy="496.0" r="2.8" fill="#58585b"/>
<circle cx="82.2" cy="499.4" r="2.8" fill="#58585b"/>
<circle cx="88.5" cy="497.0" r="2.8" fill="#58585b"/>
<circle cx="77.7" cy="507.2" r="2.8" fill="#58585b"/>
<circle cx="86.5" cy="511.7" r="2.8" fill="#58585b"/>
<circle cx="77.7" cy="536.5" r="2.8" fill="#58585b"/>
<circle cx="82.2" cy="533.6" r="2.8" fill="#58585b"/>
<circle cx="86.5" cy="543.4" r="2.8" fill="#58585b"/>
<circle cx="81.8" cy="606.3" r="2.8" fill="#58585b"/>
<line x1="71.4" y1="501.3" x2="92.4" y2="501.3" stroke="#000" stroke-width="1.3"/>
<rect x="107.7" y="505.3" width="4.6" height="4.6" fill="#f27ff0"/>
<rect x="120.8" y="511.0" width="4.6" height="4.6" fill="#f27ff0"/>
<rect x="116.3" y="515.1" width="4.6" height="4.6" fill="#f27ff0"/>
<rect x="108.1" y="518.2" width="4.6" height="4.6" fill="#f27ff0"/>
<rect x="114.7" y="518.6" width="4.6" height="4.6" fill="#f27ff0"/>
<rect x="110.2" y="521.3" width="4.6" height="4.6" fill="#f27ff0"/>
<rect x="118.8" y="530.5" width="4.6" height="4.6" fill="#f27ff0"/>
<rect x="105.7" y="533.5" width="4.6" height="4.6" fill="#f27ff0"/>
<rect x="112.2" y="537.0" width="4.6" height="4.6" fill="#f27ff0"/>
<rect x="112.2" y="549.7" width="4.6" height="4.6" fill="#f27ff0"/>
<rect x="112.2" y="559.9" width="4.6" height="4.6" fill="#f27ff0"/>
<rect x="112.2" y="604.2" width="4.6" height="4.6" fill="#f27ff0"/>
<line x1="104.3" y1="520.5" x2="125.2" y2="520.5" stroke="#f27ff0" stroke-width="1.5"/>
<path d="M147.3,515.3 L149.8,520.4 L144.8,520.4Z" fill="#4a2192"/>
<path d="M142.8,530.1 L145.3,535.2 L140.3,535.2Z" fill="#4a2192"/>
<path d="M151.8,532.3 L154.3,537.4 L149.3,537.4Z" fill="#4a2192"/>
<path d="M142.8,547.6 L145.3,552.7 L140.3,552.7Z" fill="#4a2192"/>
<path d="M151.8,544.4 L154.3,549.5 L149.3,549.5Z" fill="#4a2192"/>
<line x1="136.6" y1="530.3" x2="157.9" y2="530.3" stroke="#4a2192" stroke-width="1.5"/>
<path d="M175.4,549.4 L177.9,544.4 L172.9,544.4Z" fill="#000"/>
<path d="M184.2,541.9 L186.7,536.9 L181.7,536.9Z" fill="#000"/>
<line x1="169" y1="542.7" x2="190.5" y2="542.7" stroke="#000" stroke-width="1.5"/>
<path d="M212.1,500.0 L214.4,502.3 L212.1,504.6 L209.8,502.3Z" fill="#e52d8a"/>
<path d="M212.8,515.3 L215.1,517.6 L212.8,519.9 L210.5,517.6Z" fill="#e52d8a"/>
<path d="M216.8,526.3 L219.1,528.6 L216.8,530.9 L214.5,528.6Z" fill="#e52d8a"/>
<path d="M208.1,532.4 L210.4,534.7 L208.1,537.0 L205.8,534.7Z" fill="#e52d8a"/>
<path d="M212.8,544.6 L215.1,546.9 L212.8,549.2 L210.5,546.9Z" fill="#e52d8a"/>
<path d="M216.8,547.0 L219.1,549.3 L216.8,551.6 L214.5,549.3Z" fill="#e52d8a"/>
<path d="M208.1,552.4 L210.4,554.7 L208.1,557.0 L205.8,554.7Z" fill="#e52d8a"/>
<line x1="201.8" y1="516.4" x2="223.4" y2="516.4" stroke="#e52d8a" stroke-width="1.5"/>
<ellipse cx="245.3" cy="523.9" rx="3.6" ry="3.1" fill="#8e1a4e"/>
<ellipse cx="245.3" cy="542.2" rx="3.6" ry="3.1" fill="#8e1a4e"/>
<ellipse cx="238.7" cy="548.6" rx="3.6" ry="3.1" fill="#8e1a4e"/>
<ellipse cx="252.1" cy="546.9" rx="3.6" ry="3.1" fill="#8e1a4e"/>
<ellipse cx="245.3" cy="553.3" rx="3.6" ry="3.1" fill="#8e1a4e"/>
<ellipse cx="249.2" cy="561" rx="3.6" ry="3.1" fill="#8e1a4e"/>
<ellipse cx="240.6" cy="567.4" rx="3.6" ry="3.1" fill="#8e1a4e"/>
<line x1="234.7" y1="537.1" x2="255.8" y2="537.1" stroke="#8e1a4e" stroke-width="1.5"/>
</svg>
</body></html>
